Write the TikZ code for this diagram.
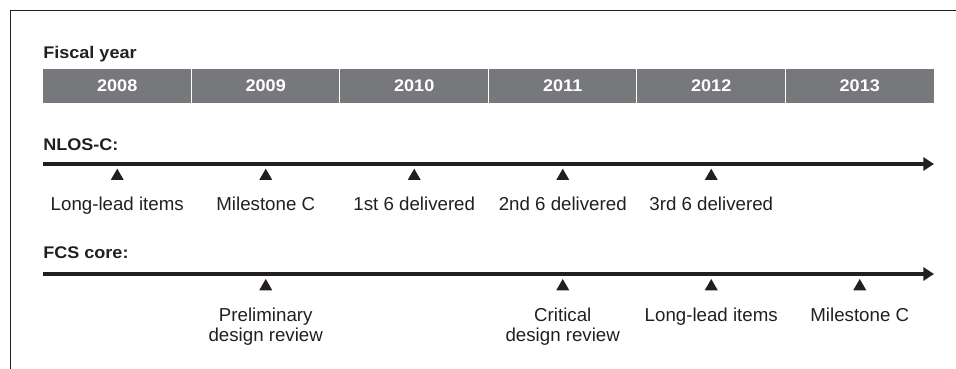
\documentclass[tikz,border=0pt]{standalone}
\usepackage{fontspec}
\setmainfont{Liberation Sans}[BoldFeatures={FakeStretch=1.07}]
\usetikzlibrary{arrows.meta, shapes.geometric}
\definecolor{ink}{HTML}{231F20}
\definecolor{bargray}{HTML}{77787B}
\tikzset{every picture/.append style={x=0.025cm, y=-0.025cm}}
\tikzset{
    head/.style={font=\fontsize{12}{14}\selectfont\bfseries, text=ink,
    	inner sep=0, anchor=base west},
    yearbox/.style={font=\fontsize{12}{14}\selectfont\bfseries, text=white,
    	fill=bargray, draw=white, line width=0.7pt, minimum width=3.7125cm,
    	minimum height=0.875cm, inner sep=0},
    marker/.style={regular polygon, regular polygon sides=3, fill=ink,
    	minimum size=0.375cm, inner sep=0},
    event/.style={font=\fontsize{13.3}{14.2}\selectfont, text=ink,
    	inner sep=0, anchor=base, align=center},
    timeline/.style={draw=ink, line width=3.4pt,
    	-{Triangle[length=7.6pt, width=9.4pt]}}
}

\begin{document}
\begin{tikzpicture}
  \useasboundingbox (0,0) rectangle (956,369);
  \draw [ink, line width=0.7pt] (10,369) -- (10,10) -- (956,10);

  % fiscal years
  \node (fy) [head] at (43,58) {Fiscal year};
  \node (y08) [yearbox] at (117.25,85.5) {2008};
  \node (y09) [yearbox] at (265.75,85.5) {2009};
  \node (y10) [yearbox] at (414.25,85.5) {2010};
  \node (y11) [yearbox] at (562.75,85.5) {2011};
  \node (y12) [yearbox] at (711.25,85.5) {2012};
  \node (y13) [yearbox] at (859.75,85.5) {2013};

  % NLOS-C
  \node (nlos) [head] at (43,150) {NLOS-C:};
  \coordinate (n_s) at (43,164);
  \coordinate (n_e) at (934,164);
  \draw [timeline] (n_s) -- (n_e);
  \node (n_1) [marker] at (117.25,176.2) {};
  \node (n_2) [marker] at (265.75,176.2) {};
  \node (n_3) [marker] at (414.25,176.2) {};
  \node (n_4) [marker] at (562.75,176.2) {};
  \node (n_5) [marker] at (711.25,176.2) {};
  \node (n_1l) [event] at (117.25,210.7) {Long-lead items};
  \node (n_2l) [event] at (265.75,210.7) {Milestone C};
  \node (n_3l) [event] at (414.25,210.7) {1st 6 delivered};
  \node (n_4l) [event] at (562.75,210.7) {2nd 6 delivered};
  \node (n_5l) [event] at (711.25,210.7) {3rd 6 delivered};

  % FCS core
  \node (fcs) [head] at (43,258) {FCS core:};
  \coordinate (f_s) at (43,274);
  \coordinate (f_e) at (934,274);
  \draw [timeline] (f_s) -- (f_e);
  \node (f_1) [marker] at (265.75,286.5) {};
  \node (f_2) [marker] at (562.75,286.5) {};
  \node (f_3) [marker] at (711.25,286.5) {};
  \node (f_4) [marker] at (859.75,286.5) {};
  % two-line labels sit on their last line
  \node (f_1l) [event] at (265.75,341) {Preliminary\\design review};
  \node (f_2l) [event] at (562.75,341) {Critical\\design review};
  \node (f_3l) [event] at (711.25,321) {Long-lead items};
  \node (f_4l) [event] at (859.75,321) {Milestone C};
\end{tikzpicture}
\end{document}
